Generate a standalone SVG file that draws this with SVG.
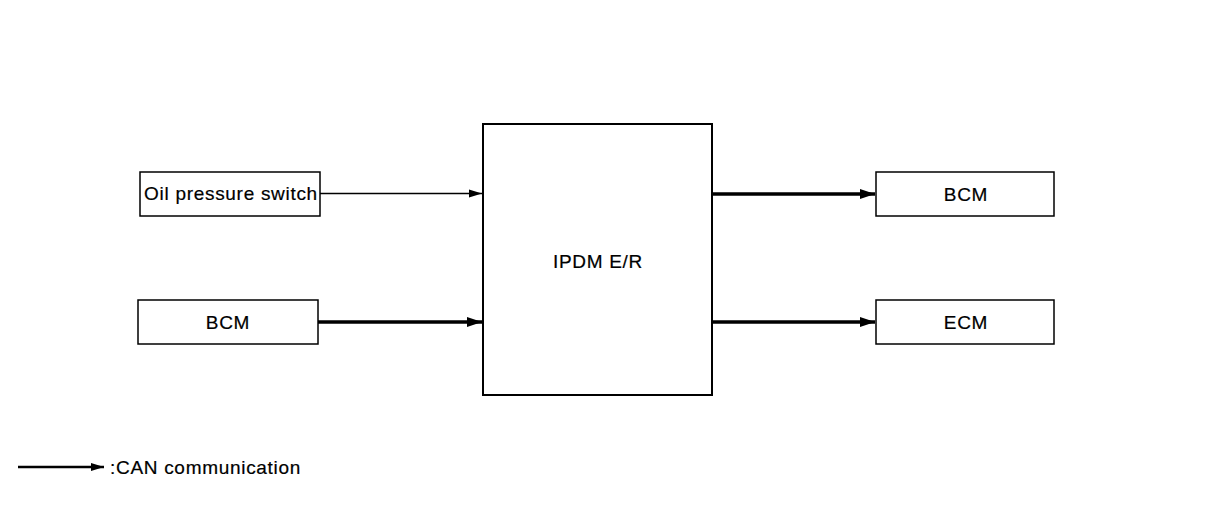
<svg xmlns="http://www.w3.org/2000/svg" width="1216" height="512" viewBox="0 0 1216 512">
<style>
.box{fill:#fff;stroke:#000;stroke-width:1.5}
.big{fill:#fff;stroke:#000;stroke-width:2}
.t{font-family:"Liberation Sans",Arial,sans-serif;font-size:19px;letter-spacing:0.7px;fill:#000;stroke:#000;stroke-width:0.2;text-anchor:middle}
.thin{stroke:#000;stroke-width:1.5;fill:none}
.can{stroke:#000;stroke-width:3.5;fill:none}
</style>
<defs>
<marker id="ah" markerUnits="userSpaceOnUse" markerWidth="14" markerHeight="10" refX="13" refY="4" orient="auto" viewBox="0 0 14 8">
<path d="M0,0 L13,4 L0,8 Z" fill="#000"/>
</marker>
<marker id="ahb" markerUnits="userSpaceOnUse" markerWidth="16" markerHeight="12" refX="15" refY="5" orient="auto" viewBox="0 0 16 10">
<path d="M0,0 L15,5 L0,10 Z" fill="#000"/>
</marker>
</defs>
<g id="connectors">
<line class="thin" x1="320" y1="193.5" x2="482" y2="193.5" marker-end="url(#ah)"/>
<line class="can" x1="318" y1="322" x2="482" y2="322" marker-end="url(#ahb)"/>
<line class="can" x1="712" y1="194" x2="875" y2="194" marker-end="url(#ahb)"/>
<line class="can" x1="712" y1="322" x2="875" y2="322" marker-end="url(#ahb)"/>
</g>
<g id="oil">
<rect class="box" x="140" y="172" width="180" height="44"/>
<text class="t" x="231" y="200">Oil pressure switch</text>
</g>
<g id="bcm-left">
<rect class="box" x="138" y="300" width="180" height="44"/>
<text class="t" x="228" y="329">BCM</text>
</g>
<g id="ipdm">
<rect class="big" x="483" y="124" width="229" height="271"/>
<text class="t" x="598" y="268">IPDM E/R</text>
</g>
<g id="bcm-right">
<rect class="box" x="876" y="172" width="178" height="44"/>
<text class="t" x="966" y="201">BCM</text>
</g>
<g id="ecm">
<rect class="box" x="876" y="300" width="178" height="44"/>
<text class="t" x="966" y="329">ECM</text>
</g>
<g id="legend">
<line x1="18" y1="467" x2="104" y2="467" stroke="#000" stroke-width="2.5" marker-end="url(#ah)"/>
<text class="t" x="110" y="474" style="text-anchor:start">:CAN communication</text>
</g>
</svg>
